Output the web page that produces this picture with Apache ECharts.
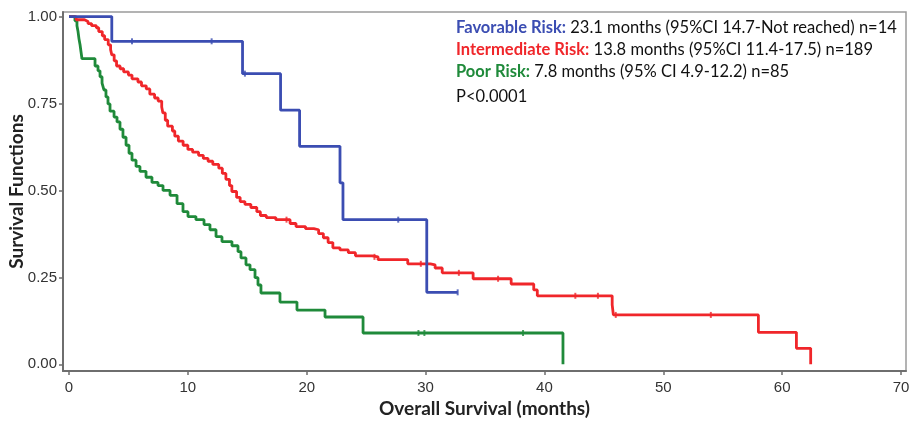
<!DOCTYPE html>
<html>
<head>
<meta charset="utf-8">
<script src="https://cdn.jsdelivr.net/npm/echarts@6/dist/echarts.min.js"></script>
<style>
  html, body { margin: 0; padding: 0; background: #fff; }
  #chart { width: 911px; height: 422px; }
</style>
</head>
<body>
<div id="chart"></div>
<script>
// tick labels
const xTicks = [0, 10, 20, 30, 40, 50, 60, 70];
const yTicks = [0, 0.25, 0.5, 0.75, 1];

// legend text
const riskNames = ['Favorable Risk:', 'Intermediate Risk:', 'Poor Risk:'];
const riskDetails = [
  ' 23.1 months (95%CI 14.7-Not reached) n=14',
  ' 13.8 months (95%CI 11.4-17.5) n=189',
  ' 7.8 months (95% CI 4.9-12.2) n=85'
];
const pValue = 'P<0.0001';

// Kaplan-Meier steps: [month, survival after the drop]
const favorable = [
  [0, 1.0], [3.6, 0.929], [14.6, 0.836], [17.8, 0.731], [19.4, 0.627],
  [22.8, 0.522], [23.05, 0.416], [30.1, 0.207], [32.7, 0.207]
];
const favorableCensor = [[5.3, 0.929], [12.0, 0.929], [14.8, 0.836], [27.7, 0.416], [32.7, 0.207]];

const intermediate = [
  [0, 1.0], [0.6, 0.991], [1.3, 0.986], [1.6, 0.980], [1.9, 0.974], [2.3, 0.968], [2.5, 0.957],
  [2.8, 0.945], [3.0, 0.934], [3.3, 0.919], [3.5, 0.905], [3.6, 0.890], [3.8, 0.873], [4.0, 0.858],
  [4.3, 0.850], [4.6, 0.841], [5.0, 0.832], [5.3, 0.821], [5.8, 0.812], [6.1, 0.801], [6.5, 0.792],
  [6.8, 0.777], [7.2, 0.766], [7.5, 0.757], [7.8, 0.740], [7.9, 0.723], [8.1, 0.702], [8.3, 0.685],
  [8.7, 0.671], [8.9, 0.656], [9.2, 0.642], [9.6, 0.630], [10.0, 0.618], [10.4, 0.610], [10.9, 0.601],
  [11.3, 0.592], [11.7, 0.584], [12.1, 0.575], [12.6, 0.564], [12.9, 0.549], [13.2, 0.532],
  [13.5, 0.514], [13.7, 0.497], [14.1, 0.480], [14.4, 0.468], [14.8, 0.460], [15.3, 0.451],
  [15.8, 0.439], [16.1, 0.428], [16.6, 0.422], [17.4, 0.416], [18.6, 0.405], [19.1, 0.396],
  [19.9, 0.390], [20.6, 0.387], [21.0, 0.376], [21.4, 0.364], [21.8, 0.350], [22.2, 0.335],
  [22.8, 0.329], [23.5, 0.321], [24.1, 0.312], [25.5, 0.309], [26.0, 0.301], [28.5, 0.289],
  [30.4, 0.286], [30.8, 0.277], [31.4, 0.263], [34.0, 0.246], [37.2, 0.231], [39.1, 0.214],
  [39.4, 0.197], [45.7, 0.171], [45.8, 0.142], [58.0, 0.092], [61.2, 0.046], [62.4, 0.0]
];
const intermediateCensor = [
  [18.3, 0.416], [25.7, 0.309], [29.6, 0.289], [32.8, 0.263], [36.1, 0.246],
  [42.6, 0.197], [44.5, 0.197], [46.0, 0.142], [54.0, 0.142]
];

const poor = [
  [0, 1.0], [0.50, 0.988], [0.67, 0.974], [0.76, 0.957], [0.84, 0.936], [0.93, 0.919], [1.01, 0.899],
  [1.09, 0.879], [2.19, 0.858], [2.44, 0.844], [2.61, 0.827], [2.78, 0.809], [2.94, 0.789],
  [3.11, 0.769], [3.28, 0.749], [3.45, 0.728], [3.79, 0.711], [4.04, 0.697], [4.29, 0.676],
  [4.54, 0.653], [4.80, 0.630], [5.05, 0.607], [5.30, 0.587], [5.64, 0.569], [5.97, 0.555],
  [6.48, 0.538], [6.98, 0.523], [7.49, 0.514], [7.91, 0.500], [8.50, 0.486], [9.09, 0.462],
  [9.59, 0.439], [10.01, 0.425], [10.68, 0.416], [11.36, 0.402], [11.86, 0.387], [12.37, 0.367],
  [12.87, 0.353], [13.71, 0.341], [14.22, 0.324], [14.47, 0.306], [14.89, 0.286], [15.23, 0.272],
  [15.65, 0.249], [15.90, 0.228], [16.15, 0.205], [17.75, 0.179], [19.18, 0.156], [21.54, 0.136],
  [24.74, 0.090], [41.56, 0.0]
];
const poorCensor = [[29.4, 0.090], [29.9, 0.090], [38.2, 0.090]];

const colors = ['#3b4db2', '#f0262a', '#1f8a3a'];
const uiFont = 'Lato, "Open Sans", sans-serif';
const tickFont = '"Liberation Sans", Arial, sans-serif';

const chart = echarts.init(document.getElementById('chart'));

function kmLine(name, data, color) {
  return {
    name: name,
    type: 'line',
    step: 'end',
    showSymbol: false,
    silent: true,
    lineStyle: { color: color, width: 2.8 },
    data: data
  };
}
function censorMarks(data, color) {
  return {
    type: 'scatter',
    symbol: 'rect',
    symbolSize: [2, 6],
    silent: true,
    itemStyle: { color: color },
    data: data
  };
}

const rowTops = [19, 41, 63, 88];
const legendRows = riskNames.map(function (n, i) {
  return {
    type: 'text',
    left: 456,
    top: rowTops[i],
    style: {
      text: '{k|' + n + '}' + riskDetails[i],
      font: '16.5px ' + uiFont,
      fill: '#111',
      rich: { k: { fill: colors[i], fontWeight: 'bold', fontSize: 16.5, fontFamily: uiFont } }
    }
  };
});
legendRows.push({
  type: 'text',
  left: 456,
  top: rowTops[3],
  style: { text: pValue, font: '16.5px ' + uiFont, fill: '#111' }
});

chart.setOption({
  animation: false,
  backgroundColor: '#fff',
  grid: {
    left: 63, right: 5, top: 12, bottom: 51,
    outerBoundsMode: 'none',
    containLabel: false,
    show: true, borderColor: '#9a9a9a', borderWidth: 1.5
  },
  xAxis: {
    type: 'value',
    min: -0.505,
    max: 70.42,
    name: 'Overall Survival (months)',
    nameLocation: 'middle',
    nameGap: 28,
    nameMoveOverlap: false,
    nameTextStyle: { fontFamily: uiFont, fontWeight: 'bold', fontSize: 19, color: '#222' },
    axisLine: { show: true, onZero: false, lineStyle: { color: '#6e6e6e', width: 2 } },
    axisTick: { show: true, customValues: xTicks, length: 4, lineStyle: { color: '#6e6e6e', width: 1.5 } },
    axisLabel: { customValues: xTicks, fontFamily: tickFont, fontSize: 15, color: '#333', margin: 9 },
    splitLine: { show: false }
  },
  yAxis: {
    type: 'value',
    min: -0.0193,
    max: 1.0133,
    name: 'Survival Functions',
    nameLocation: 'middle',
    nameGap: 37,
    nameMoveOverlap: false,
    nameTextStyle: { fontFamily: uiFont, fontWeight: 'bold', fontSize: 19, color: '#222' },
    axisLine: { show: true, onZero: false, lineStyle: { color: '#6e6e6e', width: 2 } },
    axisTick: { show: true, customValues: yTicks, length: 4, lineStyle: { color: '#6e6e6e', width: 1.5 } },
    axisLabel: {
      customValues: yTicks,
      fontFamily: tickFont, fontSize: 15, color: '#333', margin: 6,
      formatter: function (v) { return v.toFixed(2); }
    },
    splitLine: { show: false }
  },
  graphic: legendRows,
  series: [
    kmLine('Poor Risk', poor, colors[2]),
    kmLine('Intermediate Risk', intermediate, colors[1]),
    kmLine('Favorable Risk', favorable, colors[0]),
    censorMarks(poorCensor, colors[2]),
    censorMarks(intermediateCensor, colors[1]),
    censorMarks(favorableCensor, colors[0])
  ]
});
</script>
</body>
</html>
